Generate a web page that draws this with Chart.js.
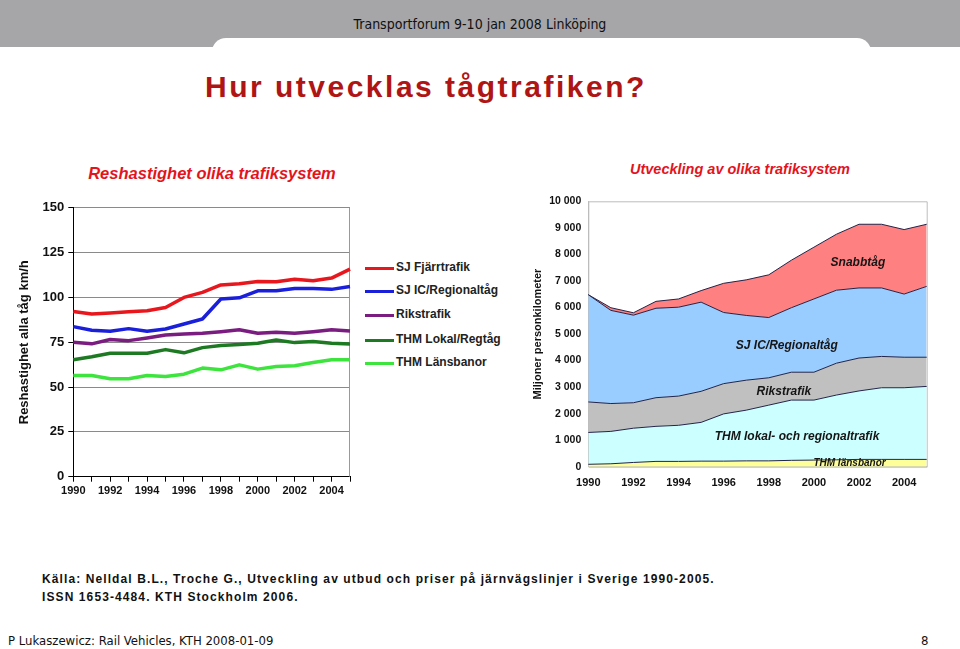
<!DOCTYPE html>
<html>
<head>
<meta charset="utf-8">
<script src="https://cdn.jsdelivr.net/npm/chart.js@4.4.1/dist/chart.umd.min.js"></script>
<style>
body { margin:0; width:960px; height:649px; position:relative; overflow:hidden; background:#fff; font-family:Arial,"Liberation Sans",sans-serif; }
.abs { position:absolute; white-space:nowrap; }
#band { left:0; top:0; width:960px; height:47px; background:#a6a5a8; }
#tab { left:212px; top:38px; width:659px; height:20px; background:#fff; border-radius:14px 14px 0 0; }
#head { left:0; width:960px; top:16px; text-align:center; font-family:"Liberation Sans Narrow","DejaVu Sans Condensed",sans-serif; font-size:14px; color:#111; }
#title { left:205px; top:70px; font-size:30px; font-weight:bold; letter-spacing:2.5px; color:#b01515; }
.ctitle { font-weight:bold; font-style:italic; color:#e3141c; transform:translateX(-50%); }
#legend .item { position:absolute; left:365px; height:14px; }
#legend .item span.ln { position:absolute; left:0; top:6px; width:29px; height:3px; }
#legend .item span.tx { position:absolute; left:31px; top:-1px; font-size:12px; font-weight:bold; color:#222; white-space:nowrap; }
.foot { left:42px; font-size:12px; font-weight:bold; color:#111; letter-spacing:1.1px; }
.bottom { top:633px; font-family:"Liberation Sans Narrow","DejaVu Sans Condensed",sans-serif; font-size:13px; color:#111; }
canvas { position:absolute; }
</style>
</head>
<body>
<div class="abs" id="band"></div>
<div class="abs" id="tab"></div>
<div class="abs" id="head">Transportforum 9-10 jan 2008 Linköping</div>
<div class="abs" id="title">Hur utvecklas tågtrafiken?</div>
<div class="abs ctitle" style="left:212px;top:164px;font-size:16.5px;">Reshastighet olika trafiksystem</div>
<div class="abs ctitle" style="left:740px;top:161px;font-size:14.5px;">Utveckling av olika trafiksystem</div>
<div id="legend"></div>
<canvas id="speedChart" width="347" height="310" style="left:13px;top:196px;"></canvas>
<canvas id="volumeChart" width="413" height="310" style="left:527px;top:188px;"></canvas>
<div class="abs foot" style="top:572px;">Källa: Nelldal B.L., Troche G., Utveckling av utbud och priser på järnvägslinjer i Sverige 1990-2005.</div>
<div class="abs foot" style="top:590px;">ISSN 1653-4484. KTH Stockholm 2006.</div>
<div class="abs bottom" style="left:8px;">P Lukaszewicz: Rail Vehicles, KTH 2008-01-09</div>
<div class="abs bottom" style="left:921px;">8</div>

<script>
// Years on both charts
var years = ['1990','1991','1992','1993','1994','1995','1996','1997','1998','1999','2000','2001','2002','2003','2004','2005'];

// Left chart: reshastighet km/h
var speedNames = ['SJ Fjärrtrafik', 'SJ IC/Regionaltåg', 'Rikstrafik', 'THM Lokal/Regtåg', 'THM Länsbanor'];
var speedColors = ['#e8161d', '#1a1fd9', '#7a1c80', '#1d7a22', '#3de43d'];
var sjFjarr   = [92.2, 90.8, 91.3, 92.0, 92.6, 94.4, 100.0, 102.8, 107.0, 107.6, 108.9, 108.7, 110.2, 109.3, 110.8, 115.8];
var sjIC      = [83.7, 81.7, 81.1, 82.6, 81.1, 82.4, 85.2, 88.0, 99.1, 99.8, 103.7, 103.7, 105.0, 105.0, 104.5, 106.1];
var riks      = [75.0, 74.1, 76.5, 75.9, 77.4, 79.1, 79.6, 80.0, 80.9, 82.0, 80.0, 80.6, 80.0, 80.9, 82.0, 81.3];
var thmLokal  = [65.2, 66.9, 68.9, 68.9, 68.9, 70.9, 69.1, 72.0, 73.2, 73.7, 74.4, 76.3, 74.8, 75.4, 74.4, 74.0];
var thmLans   = [56.5, 56.5, 54.6, 54.6, 56.5, 55.9, 57.2, 60.6, 59.6, 62.4, 60.0, 61.5, 61.9, 63.7, 65.2, 65.2];
var speedTicks = [0, 25, 50, 75, 100, 125, 150];

// Right chart: miljoner personkilometer (stacked, bottom first)
var volNames  = ['THM länsbanor', 'THM lokal- och regionaltrafik', 'Rikstrafik', 'SJ IC/Regionaltåg', 'Snabbtåg'];
var volColors = ['#ffff99', '#ccffff', '#c0c0c0', '#99ccff', '#ff8080'];
var volLans   = [90, 110, 160, 200, 200, 210, 210, 220, 220, 240, 250, 260, 275, 275, 275, 275];
var volLokal  = [1200, 1220, 1290, 1320, 1360, 1460, 1780, 1910, 2100, 2270, 2260, 2440, 2580, 2700, 2700, 2750];
var volRiks   = [1150, 1050, 960, 1080, 1100, 1170, 1140, 1130, 1030, 1050, 1050, 1200, 1240, 1180, 1150, 1100];
var volSjIC   = [4040, 3510, 3300, 3370, 3350, 3360, 2680, 2440, 2270, 2430, 2760, 2750, 2640, 2580, 2380, 2670];
var volSnabb  = [0, 100, 90, 260, 310, 435, 1100, 1340, 1610, 1790, 1950, 2110, 2400, 2400, 2430, 2340];
var volTicks  = [0, 1000, 2000, 3000, 4000, 5000, 6000, 7000, 8000, 9000, 10000];

Chart.defaults.font.family = 'Arial, "Liberation Sans", sans-serif';
Chart.defaults.color = '#111';

// HTML legend for the left chart
var legendTop = [261, 284, 308, 333, 356];
var legend = document.getElementById('legend');
for (var i = 0; i < speedNames.length; i++) {
	var item = document.createElement('div');
	item.className = 'item';
	item.style.top = legendTop[i] + 'px';
	item.innerHTML = '<span class="ln" style="background:' + speedColors[i] + '"></span><span class="tx">' + speedNames[i] + '</span>';
	legend.appendChild(item);
}

// gray frame round the plot area
var plotFrame = {
	id: 'plotFrame',
	beforeDatasetsDraw: function(chart, args, opts) {
		var a = chart.chartArea, ctx = chart.ctx;
		ctx.save();
		ctx.strokeStyle = opts.color;
		ctx.lineWidth = 1;
		ctx.beginPath();
		if (opts.full) {
			ctx.rect(a.left + 0.5, a.top + 0.5, a.right - a.left, a.bottom - a.top);
		} else {
			ctx.moveTo(a.right - 0.5, a.top);
			ctx.lineTo(a.right - 0.5, a.bottom);
		}
		ctx.stroke();
		ctx.restore();
	}
};

function evenYears(value, index) {
	return index % 2 === 0 ? years[index] : '';
}

var speedSeries = [sjFjarr, sjIC, riks, thmLokal, thmLans];
var speedSets = [];
for (var s = 0; s < speedSeries.length; s++) {
	speedSets.push({
		label: speedNames[s],
		data: speedSeries[s],
		borderColor: speedColors[s],
		borderWidth: 3.5,
		pointRadius: 0,
		tension: 0,
		fill: false,
		borderJoinStyle: 'round'
	});
}

new Chart(document.getElementById('speedChart').getContext('2d'), {
	type: 'line',
	data: { labels: years, datasets: speedSets },
	options: {
		responsive: false,
		animation: false,
		layout: { padding: { top: 10, right: 10, left: 0, bottom: 0 } },
		plugins: { legend: { display: false }, tooltip: { enabled: false }, plotFrame: { color: '#999', full: false } },
		scales: {
			x: {
				offset: false,
				afterFit: function(scale) { scale.height = 29.3; },
				grid: { drawOnChartArea: false, tickLength: 5, tickColor: '#000' },
				border: { color: '#000' },
				ticks: { autoSkip: false, maxRotation: 0, padding: 3, font: { size: 11, weight: 'bold' }, callback: evenYears }
			},
			y: {
				min: 0, max: 150,
				afterBuildTicks: function(scale) { scale.ticks = speedTicks.map(function(v) { return { value: v }; }); },
				afterFit: function(scale) { scale.width = 60.3; },
				grid: { color: '#8a8a8a', tickLength: 5, tickColor: '#000' },
				border: { color: '#000' },
				ticks: { padding: 4, font: { size: 13, weight: 'bold' } },
				title: { display: true, text: 'Reshastighet alla tåg km/h', font: { size: 13, weight: 'bold' }, color: '#111', padding: { top: 4, bottom: 0 } }
			}
		}
	},
	plugins: [plotFrame]
});

var volSeries = [volLans, volLokal, volRiks, volSjIC, volSnabb];
var volSets = [];
for (var k = 0; k < volSeries.length; k++) {
	volSets.push({
		label: volNames[k],
		data: volSeries[k],
		backgroundColor: volColors[k],
		borderColor: '#22244a',
		borderWidth: 1,
		pointRadius: 0,
		tension: 0,
		fill: k === 0 ? 'origin' : '-1'
	});
}

// text labels inside the areas, placed in data units
var areaLabels = [
	{ text: 'Snabbtåg', x: 11.95, y: 7690, size: 12 },
	{ text: 'SJ IC/Regionaltåg', x: 8.8, y: 4560, size: 12 },
	{ text: 'Rikstrafik', x: 8.67, y: 2810, size: 12 },
	{ text: 'THM lokal- och regionaltrafik', x: 9.25, y: 1140, size: 12 },
	{ text: 'THM länsbanor', x: 11.58, y: 140, size: 10 }
];

var areaText = {
	id: 'areaText',
	afterDatasetsDraw: function(chart) {
		var ctx = chart.ctx, xs = chart.scales.x, ys = chart.scales.y;
		ctx.save();
		ctx.fillStyle = '#151515';
		ctx.textAlign = 'center';
		ctx.textBaseline = 'middle';
		areaLabels.forEach(function(l) {
			ctx.font = 'italic bold ' + l.size + 'px Arial, "Liberation Sans", sans-serif';
			ctx.fillText(l.text, xs.getPixelForValue(l.x), ys.getPixelForValue(l.y));
		});
		ctx.restore();
	}
};

new Chart(document.getElementById('volumeChart').getContext('2d'), {
	type: 'line',
	data: { labels: years, datasets: volSets },
	options: {
		responsive: false,
		animation: false,
		layout: { padding: { top: 9.7, right: 13.3, left: 0, bottom: 0 } },
		plugins: { legend: { display: false }, tooltip: { enabled: false }, plotFrame: { color: '#bdbdbd', full: true } },
		scales: {
			x: {
				offset: false,
				afterFit: function(scale) { scale.height = 31.3; },
				grid: { display: false, drawTicks: false },
				border: { color: '#bdbdbd' },
				ticks: { autoSkip: false, maxRotation: 0, padding: 10, font: { size: 11, weight: 'bold' }, callback: evenYears }
			},
			y: {
				stacked: true,
				min: 0, max: 10000,
				afterBuildTicks: function(scale) { scale.ticks = volTicks.map(function(v) { return { value: v }; }); },
				afterFit: function(scale) { scale.width = 61.3; },
				grid: { display: false, drawTicks: false },
				border: { color: '#bdbdbd' },
				ticks: { padding: 7, font: { size: 10.5, weight: 'bold' },
					callback: function(v) { return String(v).replace(/\B(?=(\d{3})+(?!\d))/g, ' '); } },
				title: { display: true, text: 'Miljoner personkilometer', font: { size: 11, weight: 'bold' }, color: '#111', padding: { top: 4, bottom: 0 } }
			}
		}
	},
	plugins: [plotFrame, areaText]
});
</script>
</body>
</html>
